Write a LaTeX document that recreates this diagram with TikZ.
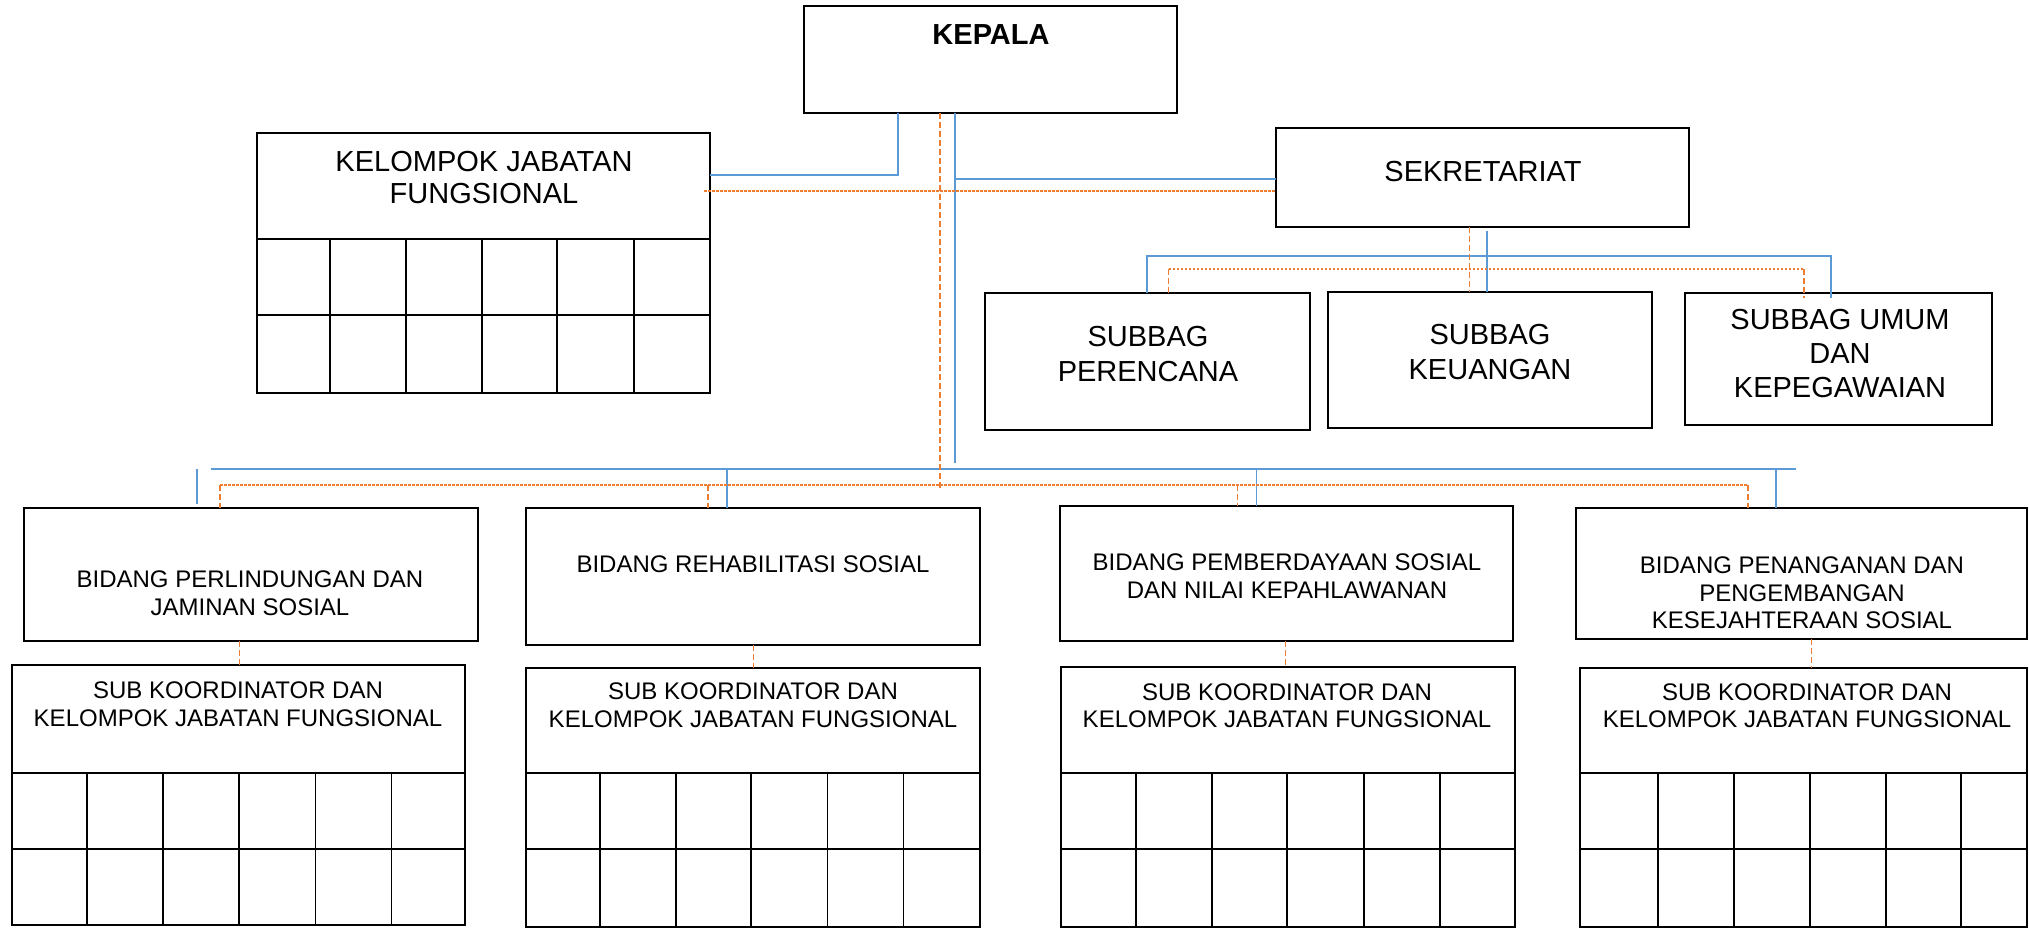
\documentclass[tikz,border=0pt]{standalone}
\usepackage{fontspec}
\setmainfont{Liberation Sans}
\usetikzlibrary{calc}
\definecolor{cblue}{RGB}{91,155,213}
\definecolor{corange}{RGB}{237,125,49}
\tikzset{
 box/.style={draw=black, line width=1.3pt, inner sep=0pt, outer sep=0pt, rectangle},
 bigtxt/.style={inner sep=0pt, align=center, font=\fontsize{29}{34}\selectfont},
 smalltxt/.style={inner sep=0pt, align=center, font=\fontsize{24}{27.8}\selectfont},
 bl/.style={draw=cblue, line width=1.2pt},
 blthick/.style={draw=cblue, line width=2.6pt},
 orh/.style={draw=corange, line width=1.1pt, dash pattern=on 2.5pt off 1.5pt},
 orv/.style={draw=corange, line width=1.1pt, dash pattern=on 6pt off 3pt},
 gridline/.style={draw=black, line width=1.1pt},
}
\newcommand\mkbox[5]{\node[box, minimum width={#4-#2}, minimum height={#5-#3}] (#1) at ({(#2+#4)/2},{(#3+#5)/2}) {};}
\begin{document}
\begin{tikzpicture}[x=1pt,y=-1pt]
\useasboundingbox (0,0) rectangle (2029,927);
\fill[white] (0,0) rectangle (2029,927);

% ---------- boxes ----------
\mkbox{kepala}{804}{6}{1177}{113}
\mkbox{kjf}{257}{133}{710}{393}
\mkbox{sek}{1276}{128}{1689}{227}
\mkbox{sp}{985}{293}{1310}{430}
\mkbox{sk}{1328}{292}{1652}{428}
\mkbox{su}{1685}{293}{1992}{425}
\mkbox{bA}{24}{508}{478}{641}
\mkbox{bB}{526}{508}{980}{645}
\mkbox{bC}{1060}{506}{1513}{641}
\mkbox{bD}{1576}{508}{2027}{639}
\mkbox{sA}{12}{665}{465}{925}
\mkbox{sB}{526}{668}{980}{927}
\mkbox{sC}{1061}{667}{1515}{927}
\mkbox{sD}{1580}{668}{2027}{927}

% thicker bottom of last bidang box
\draw[line width=2.4pt] (bD.south west) -- (bD.south east);

% ---------- grids ----------
\draw[gridline] (257,239) -- (710,239);
\draw[gridline] (257,315) -- (710,315);
\foreach \x in {330,406,482,557,634} \draw[gridline] (\x,239) -- (\x,393);

\foreach \l/\r in {12/465, 526/980, 1061/1515, 1580/2027} {
  \draw[gridline] (\l,773) -- (\r,773);
  \draw[gridline] (\l,849) -- (\r,849);
}
\foreach \x in {87,163,239,315.5,391.6} \draw[gridline] (\x,773) -- (\x,925);
\foreach \x in {600,676,751,827.5,903.6} \draw[gridline] (\x,773) -- (\x,927);
\foreach \x in {1136,1212,1287,1364,1440} \draw[gridline] (\x,773) -- (\x,927);
\foreach \x in {1658,1734,1810,1886,1961} \draw[gridline] (\x,773) -- (\x,927);

% ---------- texts ----------
\node[bigtxt, font=\fontsize{29}{34}\selectfont\bfseries] (tkepala) at (991,35) {KEPALA};
\node[bigtxt, font=\fontsize{29}{31.5}\selectfont] (tkjf) at (484,177.5) {KELOMPOK JABATAN\\FUNGSIONAL};
\node[bigtxt] (tsek) at (1483,172) {SEKRETARIAT};
\node[bigtxt, font=\fontsize{29}{35}\selectfont] (tsp) at (1148,354.2) {SUBBAG\\PERENCANA};
\node[bigtxt, font=\fontsize{29}{35}\selectfont] (tsk) at (1490,352.5) {SUBBAG\\KEUANGAN};
\node[bigtxt] (tsu) at (1840,354) {SUBBAG UMUM\\DAN\\KEPEGAWAIAN};

\node[smalltxt] (tbA) at (250,593.3) {BIDANG PERLINDUNGAN DAN\\JAMINAN SOSIAL};
\node[smalltxt] (tbB) at (753,564) {BIDANG REHABILITASI SOSIAL};
\node[smalltxt] (tbC) at (1287,576.3) {BIDANG PEMBERDAYAAN SOSIAL\\DAN NILAI KEPAHLAWANAN};
\node[smalltxt] (tbD) at (1802,592.8) {BIDANG PENANGANAN DAN\\PENGEMBANGAN\\KESEJAHTERAAN SOSIAL};

\node[smalltxt] (tsA) at (238,704) {SUB KOORDINATOR DAN\\KELOMPOK JABATAN FUNGSIONAL};
\node[smalltxt] (tsB) at (753,705.5) {SUB KOORDINATOR DAN\\KELOMPOK JABATAN FUNGSIONAL};
\node[smalltxt] (tsC) at (1287,705.8) {SUB KOORDINATOR DAN\\KELOMPOK JABATAN FUNGSIONAL};
\node[smalltxt] (tsD) at (1807,705.8) {SUB KOORDINATOR DAN\\KELOMPOK JABATAN FUNGSIONAL};

% ---------- blue connectors ----------
\coordinate (kj) at (898,175);
\draw[bl] (kepala.south -| kj) -- (kj) -- (kjf.east |- kj);
\coordinate (cb) at (955,463);
\draw[bl] (kepala.south -| cb) -- (cb);
\coordinate (sj) at (955,179);
\draw[bl] (sj) -- (sek.west |- sj);
\coordinate (sb) at (1487,231);
\draw[bl] (sb) -- (sk.north -| sb);
\coordinate (sbl) at (1147,256);
\coordinate (sbr) at (1831,256);
\draw[bl] (sp.north -| sbl) -- (sbl) -- (sbr) -- ($(su.north -| sbr)+(0,5)$);

\coordinate (hbl) at (211,469);
\coordinate (hbr) at (1796,469);
\draw[blthick] (hbl) -- (hbr);
\coordinate (vA) at (197,469);
\coordinate (vB) at (727,470);
\coordinate (vC) at (1256.5,469);
\coordinate (vD) at (1776,470);
\draw[bl] (vA) -- ($(bA.north -| vA)+(0,-4)$);
\draw[bl] (vB) -- (bB.north -| vB);
\draw[bl] (vC) -- (bC.north -| vC);
\draw[bl] (vD) -- (bD.north -| vD);

% ---------- orange dashed connectors ----------
\coordinate (co) at (940,490);
\draw[orv] (kepala.south -| co) -- (co);
\coordinate (oj) at (704,191);
\draw[orh] (oj) -- (sek.west |- oj);
\coordinate (so) at (1469.5,0);
\draw[orv] (sek.south -| so) -- (sk.north -| so);
\coordinate (sol) at (1168.6,269);
\coordinate (sor) at (1804,269);
\draw[orh] (sol) -- (sor);
\draw[orv] (sol) -- (sp.north -| sol);
\draw[orv] (sor) -- ($(su.north -| sor)+(0,5)$);

\coordinate (oA) at (220,485);
\coordinate (oB) at (708,485);
\coordinate (oC) at (1237.6,485);
\coordinate (oD) at (1748,485);
\draw[orh] (oA) -- (oD);
\draw[orv] (oA) -- (bA.north -| oA);
\draw[orv] (oB) -- (bB.north -| oB);
\draw[orv] (oC) -- (bC.north -| oC);
\draw[orv] (oD) -- (bD.north -| oD);

\coordinate (xA) at (239.4,0);
\coordinate (xB) at (753.3,0);
\coordinate (xC) at (1285.5,0);
\coordinate (xD) at (1811.8,0);
\draw[orv] (bA.south -| xA) -- (sA.north -| xA);
\draw[orv] (bB.south -| xB) -- (sB.north -| xB);
\draw[orv] (bC.south -| xC) -- (sC.north -| xC);
\draw[orv] (bD.south -| xD) -- (sD.north -| xD);
\end{tikzpicture}
\end{document}
